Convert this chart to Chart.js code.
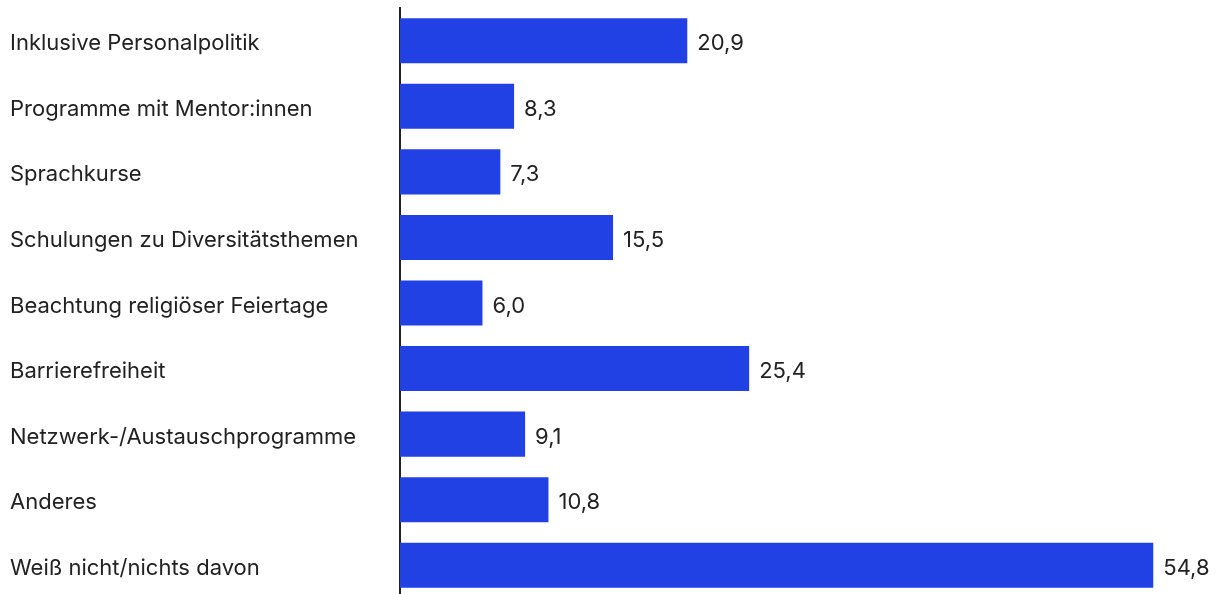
<!DOCTYPE html>
<html>
<head>
<meta charset="utf-8">
<script src="https://cdn.jsdelivr.net/npm/chart.js@4"></script>
<style>
  html, body { margin: 0; padding: 0; background: #fff; overflow: hidden; }
  /* last row runs slightly past the bottom edge */
  #wrap { width: 1217px; height: 598px; }
</style>
</head>
<body>
<div id="wrap"><canvas id="chart"></canvas></div>
<script>
const categories = [
  "Inklusive Personalpolitik",
  "Programme mit Mentor:innen",
  "Sprachkurse",
  "Schulungen zu Diversitätsthemen",
  "Beachtung religiöser Feiertage",
  "Barrierefreiheit",
  "Netzwerk-/Austauschprogramme",
  "Anderes",
  "Weiß nicht/nichts davon"
];
const shares = [20.9, 8.3, 7.3, 15.5, 6.0, 25.4, 9.1, 10.8, 54.8];

const FONT = "Inter, 'Noto Sans', sans-serif";
const TEXT = "#222222";

// value labels right of each bar, German decimal comma
const valueLabels = {
  id: "valueLabels",
  afterDatasetsDraw(chart) {
    const ctx = chart.ctx;
    const meta = chart.getDatasetMeta(0);
    ctx.save();
    ctx.font = "22px " + FONT;
    ctx.fillStyle = TEXT;
    ctx.textAlign = "left";
    ctx.textBaseline = "middle";
    meta.data.forEach((bar, i) => {
      const txt = shares[i].toFixed(1).replace(".", ",");
      ctx.fillText(txt, bar.x + 10, bar.y + 3);
    });
    ctx.restore();
  }
};

new Chart(document.getElementById("chart"), {
  type: "bar",
  data: {
    labels: categories,
    datasets: [{
      data: shares,
      backgroundColor: "#2141E5",
      borderWidth: 0,
      categoryPercentage: 1,
      barPercentage: 0.687
    }]
  },
  options: {
    indexAxis: "y",
    responsive: true,
    maintainAspectRatio: false,
    animation: false,
    layout: { padding: { left: 10, right: 6, top: 8, bottom: 0 } },
    plugins: {
      legend: { display: false },
      tooltip: { enabled: false }
    },
    scales: {
      x: {
        display: false,
        min: 0,
        max: 59
      },
      y: {
        grid: { display: false, drawTicks: false },
        border: { display: true, color: TEXT, width: 2 },
        ticks: {
          crossAlign: "far",
          color: TEXT,
          font: { family: FONT, size: 22 },
          padding: 0,
          labelOffset: 3
        },
        afterFit(scale) {
          scale.width = 390;
          scale.paddingTop = 0;
          scale.paddingBottom = 0;
        }
      }
    }
  },
  plugins: [valueLabels]
});
</script>
</body>
</html>
